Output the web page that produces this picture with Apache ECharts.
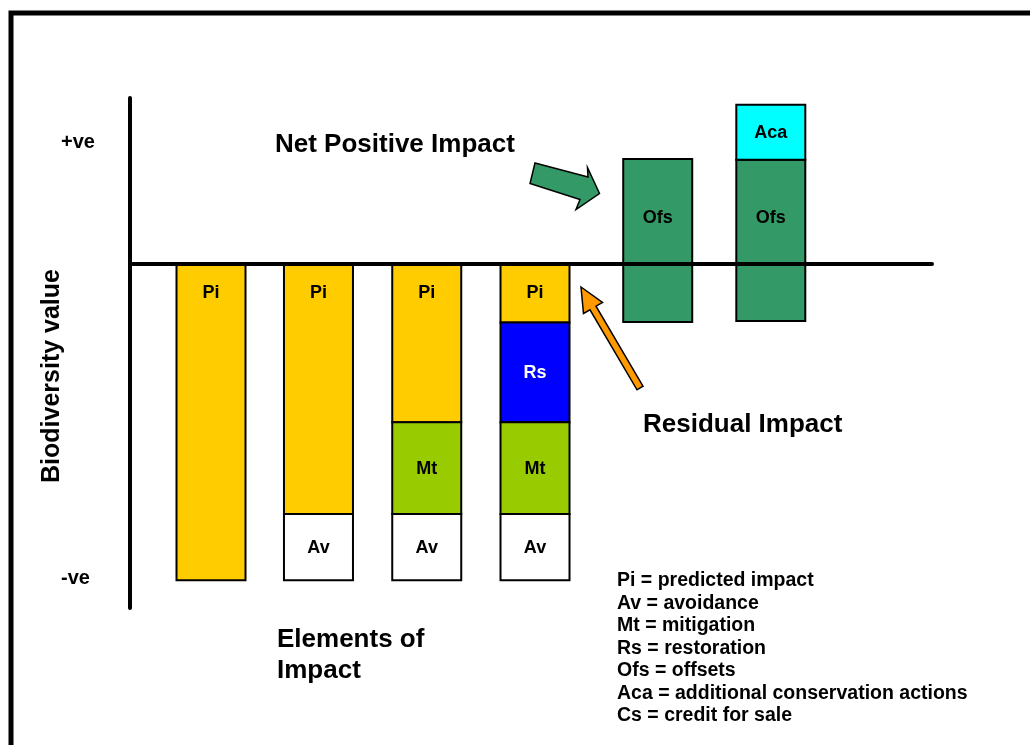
<!DOCTYPE html>
<html>
<head>
<meta charset="utf-8">
<script src="https://cdn.jsdelivr.net/npm/echarts@6/dist/echarts.min.js"></script>
<style>
html,body{margin:0;padding:0;background:#fff;}
#chart{width:1030px;height:745px;}
</style>
</head>
<body>
<div id="chart"></div>
<script>
// ---- data ----
const elementPos = [10.1, 23.5, 37.0, 50.5, 65.8, 79.9];
// below zero, stacked downward in this order: Pi, Rs, Mt, Av
const piValues   = [-100, -79, -50, -18.5, null, null];
const rsValues   = [null, null, null, -31.5, null, null];
const mtValues   = [null, null, -29, -29, null, null];
const avValues   = [null, -21, -21, -21, null, null];
// offsets span from below zero to above zero; Aca stacked on top
const ofsBelow   = [null, null, null, null, -18.3, -18];
const ofsAbove   = [null, null, null, null, 33.2, 33];
const acaValues  = [null, null, null, null, null, 17.4];
const legendLines = [
  'Pi = predicted impact',
  'Av = avoidance',
  'Mt = mitigation',
  'Rs = restoration',
  'Ofs = offsets',
  'Aca = additional conservation actions',
  'Cs = credit for sale'
];

const FONT = '"Liberation Sans", Arial, Helvetica, sans-serif';

// build [x, start, end] segments by stacking the values
const segs = { Pi: [], Rs: [], Mt: [], Av: [], Ofs: [], Aca: [] };
elementPos.forEach((x, i) => {
  let base = 0;
  [['Pi', piValues], ['Rs', rsValues], ['Mt', mtValues], ['Av', avValues]].forEach(([k, arr]) => {
    if (arr[i] != null) { segs[k].push([x, base, base + arr[i]]); base += arr[i]; }
  });
  if (ofsAbove[i] != null) {
    segs.Ofs.push([x, ofsBelow[i], ofsAbove[i]]);
    if (acaValues[i] != null) segs.Aca.push([x, ofsAbove[i], ofsAbove[i] + acaValues[i]]);
  }
});

function segSeries(name, color, textColor, anchor) {
  return {
    type: 'custom',
    name: name,
    data: segs[name],
    encode: { x: 0, y: [1, 2] },
    renderItem: function (params, api) {
      const x = api.value(0);
      const pa = api.coord([x, api.value(1)]);
      const pb = api.coord([x, api.value(2)]);
      const pz = api.coord([x, 0]);
      const w = 69;
      const top = Math.min(pa[1], pb[1]);
      const bot = Math.max(pa[1], pb[1]);
      let ty;
      if (anchor === 'top') ty = top + 29;
      else if (anchor === 'upper') ty = (top + Math.min(pz[1], bot)) / 2 + 6;
      else ty = (top + bot) / 2 + 1;
      return {
        type: 'group',
        children: [
          { type: 'rect', shape: { x: pa[0] - w / 2, y: top, width: w, height: bot - top },
            style: { fill: color, stroke: '#000', lineWidth: 2 } },
          { type: 'text', x: pa[0], y: ty,
            style: { text: name, fill: textColor, font: 'bold 18px ' + FONT, align: 'center', verticalAlign: 'middle' } }
        ]
      };
    }
  };
}

const chart = echarts.init(document.getElementById('chart'));

const graphics = [
  { type: 'rect', shape: { x: 11, y: 13, width: 1060, height: 780 },
    style: { fill: 'none', stroke: '#000', lineWidth: 5 }, silent: true },
  { type: 'text', x: 61, y: 142, style: { text: '+ve', font: 'bold 20px ' + FONT, fill: '#000', align: 'left', verticalAlign: 'middle' } },
  { type: 'text', x: 61, y: 578, style: { text: '-ve', font: 'bold 20px ' + FONT, fill: '#000', align: 'left', verticalAlign: 'middle' } },
  { type: 'text', x: 52, y: 376, rotation: Math.PI / 2,
    style: { text: 'Biodiversity value', font: 'bold 25px ' + FONT, fill: '#000', align: 'center', verticalAlign: 'middle' } },
  { type: 'text', x: 275, y: 145, style: { text: 'Net Positive Impact', font: 'bold 26px ' + FONT, fill: '#000', align: 'left', verticalAlign: 'middle' } },
  { type: 'text', x: 643, y: 425, style: { text: 'Residual Impact', font: 'bold 26px ' + FONT, fill: '#000', align: 'left', verticalAlign: 'middle' } },
  { type: 'text', x: 277, y: 640, style: { text: 'Elements of', font: 'bold 26px ' + FONT, fill: '#000', align: 'left', verticalAlign: 'middle' } },
  { type: 'text', x: 277, y: 671, style: { text: 'Impact', font: 'bold 26px ' + FONT, fill: '#000', align: 'left', verticalAlign: 'middle' } },
  { type: 'polygon', shape: { points: [[535,163],[588,177],[587.5,167.5],[599.5,193.5],[576,209.5],[580,199.5],[530,183.5]] },
    style: { fill: '#339966', stroke: '#000', lineWidth: 1.5 } },
  { type: 'polygon', shape: { points: [[581,287],[602.5,302.5],[596,306.2],[643,386.2],[637,389.8],[590,309.8],[583.5,313.5]] },
    style: { fill: '#FF9900', stroke: '#000', lineWidth: 1.5 } }
];
legendLines.forEach((t, i) => {
  graphics.push({ type: 'text', x: 617, y: 581 + 22.5 * i,
    style: { text: t, font: 'bold 19.5px ' + FONT, fill: '#000', align: 'left', verticalAlign: 'middle' } });
});

chart.setOption({
  animation: false,
  backgroundColor: '#fff',
  grid: { left: 130, right: 98, top: 98, bottom: 137 },
  xAxis: {
    type: 'value', min: 0, max: 100, z: 10,
    axisLine: { show: true, onZero: true, lineStyle: { color: '#000', width: 4 } },
    axisTick: { show: false }, axisLabel: { show: false }, splitLine: { show: false }
  },
  yAxis: {
    type: 'value', min: -108.75, max: 52.5,
    axisLine: { show: true, onZero: false, lineStyle: { color: '#000', width: 4 } },
    axisTick: { show: false }, axisLabel: { show: false }, splitLine: { show: false }
  },
  series: [
    segSeries('Pi', '#FFCC00', '#000', 'top'),
    segSeries('Rs', '#0000FF', '#fff', 'center'),
    segSeries('Mt', '#99CC00', '#000', 'center'),
    segSeries('Av', '#FFFFFF', '#000', 'center'),
    segSeries('Ofs', '#339966', '#000', 'upper'),
    segSeries('Aca', '#00FFFF', '#000', 'center')
  ],
  graphic: graphics
});
</script>
</body>
</html>
